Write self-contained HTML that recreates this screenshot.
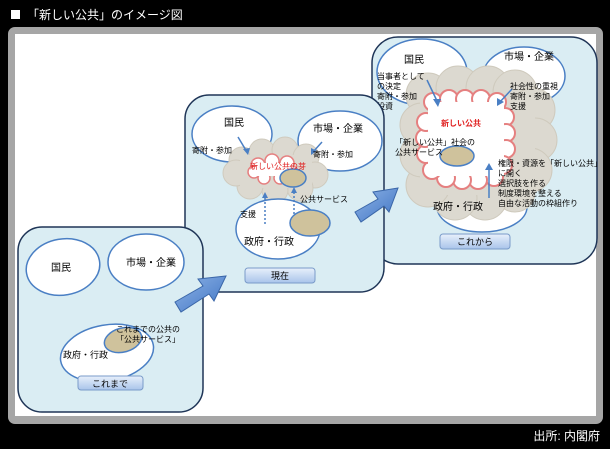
<!DOCTYPE html>
<html><head><meta charset="utf-8"><style>
body{margin:0;background:#000;width:610px;height:444px;overflow:hidden;font-family:"Liberation Sans","Noto Sans CJK JP",sans-serif;}
svg text{font-family:"Liberation Sans","Noto Sans CJK JP",sans-serif;}
</style></head><body>
<svg width="610" height="444" viewBox="0 0 610 444" xmlns="http://www.w3.org/2000/svg">
<defs>
<linearGradient id="btn" x1="0" y1="0" x2="0" y2="1"><stop offset="0" stop-color="#e8f0fb"/><stop offset="1" stop-color="#a9c4ea"/></linearGradient>
<linearGradient id="arr" x1="0" y1="0" x2="1" y2="1"><stop offset="0" stop-color="#8fb4e6"/><stop offset="1" stop-color="#3f74c4"/></linearGradient>
</defs>
<rect x="0" y="0" width="610" height="444" fill="#000"/>
<rect x="11" y="10" width="9" height="9" fill="#fff"/>
<text x="27" y="19" font-size="12" fill="#fff">「新しい公共」のイメージ図</text>
<rect x="8" y="27" width="595" height="397" rx="7" fill="#a6a6a6"/>
<rect x="15" y="34" width="581" height="382" fill="#fff"/>
<text x="600" y="440" font-size="12" fill="#fff" text-anchor="end">出所: 内閣府</text>

<!-- Panel 3 -->
<rect x="372" y="37" width="225" height="227" rx="26" fill="#daedf3" stroke="#1f3557" stroke-width="1.5"/>
<ellipse cx="422" cy="72" rx="45" ry="33" fill="#fff" stroke="#4a7fc4" stroke-width="1.5"/>
<ellipse cx="524" cy="76" rx="41" ry="29" fill="#fff" stroke="#4a7fc4" stroke-width="1.5"/>
<ellipse cx="482" cy="207" rx="45" ry="25" fill="#fff" stroke="#4a7fc4" stroke-width="1.5"/>
<g fill="#dcd9d0" stroke="#cfcabd">
<circle cx="428" cy="95" r="22"/><circle cx="458" cy="88" r="22"/><circle cx="488" cy="88" r="22"/><circle cx="515" cy="92" r="22"/><circle cx="533" cy="110" r="22"/>
<circle cx="535" cy="140" r="22"/><circle cx="530" cy="170" r="22"/><circle cx="515" cy="192" r="20"/><circle cx="485" cy="198" r="22"/><circle cx="455" cy="198" r="22"/>
<circle cx="428" cy="185" r="22"/><circle cx="422" cy="155" r="22"/><circle cx="422" cy="125" r="22"/>
</g>
<rect x="420" y="95" width="115" height="100" fill="#dcd9d0"/>
<g fill="#fff" stroke="#e58080" stroke-width="2">
<circle cx="433" cy="102" r="9"/><circle cx="449" cy="99" r="9"/><circle cx="465" cy="99" r="9"/><circle cx="481" cy="99" r="9"/><circle cx="497" cy="102" r="9"/>
<circle cx="505" cy="117" r="9"/><circle cx="506" cy="133" r="9"/><circle cx="506" cy="149" r="9"/><circle cx="503" cy="165" r="9"/>
<circle cx="494" cy="177" r="9"/><circle cx="478" cy="180" r="9"/><circle cx="462" cy="180" r="9"/><circle cx="446" cy="178" r="9"/><circle cx="432" cy="170" r="9"/>
<circle cx="426" cy="154" r="9"/><circle cx="425" cy="138" r="9"/><circle cx="426" cy="122" r="9"/>
</g>
<rect x="428" y="102" width="76" height="74" fill="#fff"/>
<ellipse cx="457" cy="156" rx="17" ry="10" fill="#cfc29c" stroke="#4a7fc4" stroke-width="1.5"/>
<g stroke="#4a7fc4" stroke-width="1.5" fill="none">
<line x1="427" y1="80" x2="438" y2="103"/><line x1="512" y1="89" x2="499" y2="103"/><line x1="489" y1="198" x2="489" y2="167"/>
</g>
<g fill="#4a7fc4"><polygon points="438,107 433,99 441,99"/><polygon points="497,106 497,98 504,102"/><polygon points="489,163 485,170 493,170"/></g>
<g font-size="8" fill="#000">
<text x="404" y="63" font-size="10">国民</text>
<text x="504" y="60" font-size="10">市場・企業</text>
<text x="377" y="79">当事者として</text><text x="377" y="89">の決定</text><text x="377" y="99">寄附・参加</text><text x="377" y="109">投資</text>
<text x="510" y="89">社会性の重視</text><text x="510" y="99">寄附・参加</text><text x="510" y="109">支援</text>
<text x="441" y="126" fill="#e02020" font-weight="bold">新しい公共</text>
<text x="395" y="145">「新しい公共」社会の</text><text x="395" y="155">公共サービス</text>
<text x="498" y="166">権限・資源を「新しい公共」</text><text x="498" y="176">に開く</text><text x="498" y="186">選択肢を作る</text><text x="498" y="196">制度環境を整える</text><text x="498" y="206">自由な活動の枠組作り</text>
<text x="433" y="210" font-size="10">政府・行政</text>
</g>
<rect x="440" y="234" width="70" height="15" rx="3" fill="url(#btn)" stroke="#7a9bc9"/>
<text x="475" y="245" font-size="9" text-anchor="middle">これから</text>

<!-- Panel 2 -->
<rect x="185" y="95" width="199" height="197" rx="24" fill="#daedf3" stroke="#1f3557" stroke-width="1.5"/>
<ellipse cx="232" cy="134" rx="40" ry="28" fill="#fff" stroke="#4a7fc4" stroke-width="1.5"/>
<ellipse cx="340" cy="141" rx="42" ry="30" fill="#fff" stroke="#4a7fc4" stroke-width="1.5"/>
<g fill="#dcd9d0" stroke="#cfcabd">
<circle cx="242" cy="160" r="13"/><circle cx="262" cy="152" r="13"/><circle cx="285" cy="150" r="13"/><circle cx="306" cy="157" r="13"/>
<circle cx="315" cy="175" r="13"/><circle cx="300" cy="188" r="13"/><circle cx="275" cy="190" r="13"/><circle cx="250" cy="186" r="13"/><circle cx="236" cy="173" r="13"/>
</g>
<rect x="240" y="155" width="72" height="33" fill="#dcd9d0"/>
<g fill="#fff" stroke="#e58080" stroke-width="1.5">
<circle cx="258" cy="165" r="7"/><circle cx="272" cy="161" r="7"/><circle cx="287" cy="163" r="7"/><circle cx="292" cy="172" r="6"/><circle cx="280" cy="178" r="6"/><circle cx="264" cy="178" r="6"/><circle cx="254" cy="172" r="6"/>
</g>
<rect x="256" y="163" width="34" height="13" fill="#fff"/>
<ellipse cx="293" cy="178" rx="13" ry="9" fill="#cfc29c" stroke="#4a7fc4" stroke-width="1.5"/>
<ellipse cx="278" cy="229" rx="42" ry="30" fill="#fff" stroke="#4a7fc4" stroke-width="1.5"/>
<ellipse cx="310" cy="223" rx="20" ry="13" fill="#cfc29c" stroke="#4a7fc4" stroke-width="1.5"/>
<g stroke="#4a7fc4" stroke-width="1.5" fill="none">
<line x1="238" y1="137" x2="247" y2="152"/><line x1="322" y1="142" x2="313" y2="152"/>
<line x1="265" y1="224" x2="265" y2="196" stroke-dasharray="2,2"/><line x1="294" y1="214" x2="294" y2="190" stroke-dasharray="2,2"/>
</g>
<g fill="#4a7fc4"><polygon points="248,155 243,149 250,148"/><polygon points="311,155 311,148 317,151"/><polygon points="265,192 262,198 268,198"/><polygon points="294,187 291,193 297,193"/></g>
<g font-size="8" fill="#000">
<text x="224" y="126" font-size="10">国民</text>
<text x="313" y="132" font-size="10">市場・企業</text>
<text x="192" y="153">寄附・参加</text><text x="313" y="157">寄附・参加</text>
<text x="250" y="169" fill="#e02020">新しい公共の芽</text>
<text x="300" y="202">公共サービス</text><text x="240" y="217">支援</text>
<text x="244" y="245" font-size="10">政府・行政</text>
</g>
<rect x="245" y="268" width="70" height="15" rx="3" fill="url(#btn)" stroke="#7a9bc9"/>
<text x="280" y="279" font-size="9" text-anchor="middle">現在</text>

<!-- Panel 1 -->
<rect x="18" y="227" width="185" height="185" rx="24" fill="#daedf3" stroke="#1f3557" stroke-width="1.5"/>
<ellipse cx="63" cy="267" rx="37" ry="28" fill="#fff" stroke="#4a7fc4" stroke-width="1.5" transform="rotate(-10 63 267)"/>
<ellipse cx="146" cy="262" rx="38" ry="28" fill="#fff" stroke="#4a7fc4" stroke-width="1.5"/>
<ellipse cx="107" cy="353" rx="47" ry="28" fill="#fff" stroke="#4a7fc4" stroke-width="1.5" transform="rotate(-10 107 353)"/>
<ellipse cx="123" cy="340" rx="19" ry="12" fill="#cfc29c" stroke="#4a7fc4" stroke-width="1.5" transform="rotate(-15 123 340)"/>
<g font-size="8" fill="#000">
<text x="51" y="271" font-size="10">国民</text>
<text x="126" y="266" font-size="10">市場・企業</text>
<text x="116" y="332">これまでの公共の</text><text x="116" y="342">「公共サービス」</text>
<text x="63" y="358" font-size="9">政府・行政</text>
</g>
<rect x="78" y="376" width="65" height="14" rx="3" fill="url(#btn)" stroke="#7a9bc9"/>
<text x="110" y="387" font-size="9" text-anchor="middle">これまで</text>

<!-- arrows -->
<polygon points="175,302 203,286 198,279 226,276 214,301 209,294 181,312" fill="url(#arr)" stroke="#3a66a8"/>
<polygon points="355,212 378,199 373,192 398,188 389,212 384,206 361,222" fill="url(#arr)" stroke="#3a66a8"/>
</svg>
</body></html>
